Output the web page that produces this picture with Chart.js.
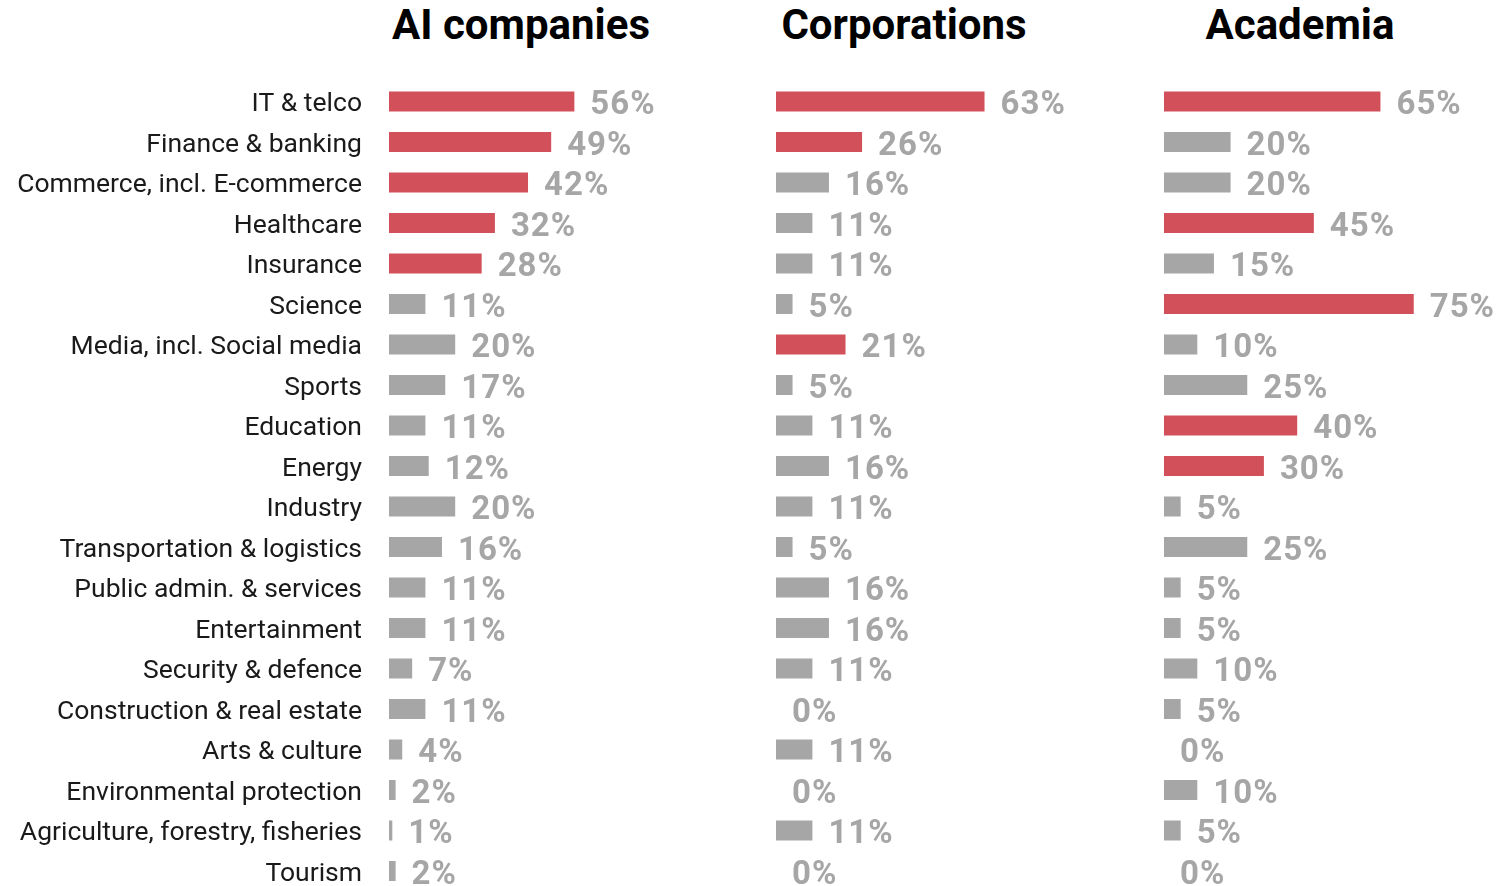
<!DOCTYPE html>
<html>
<head>
<meta charset="utf-8">
<script src="https://cdn.jsdelivr.net/npm/chart.js@4"></script>
<style>
  html, body { margin: 0; padding: 0; background: #fff; }
  body { width: 1497px; height: 886px; position: relative; overflow: hidden; }
  canvas { position: absolute; top: 0; }
  .title {
    position: absolute; top: 4px; width: 400px; text-align: center;
    font: bold 42px Roboto, sans-serif; line-height: 42px; color: #000;
  }
</style>
</head>
<body>
<div class="title" style="left:321px">AI companies</div>
<div class="title" style="left:704px">Corporations</div>
<div class="title" style="left:1100px">Academia</div>
<canvas id="ai" width="720" height="900" style="left:0"></canvas>
<canvas id="corp" width="331" height="900" style="left:776px"></canvas>
<canvas id="acad" width="333" height="900" style="left:1164px"></canvas>
<script>
// --- data ---
const sectors = [
  'IT & telco', 'Finance & banking', 'Commerce, incl. E-commerce', 'Healthcare',
  'Insurance', 'Science', 'Media, incl. Social media', 'Sports', 'Education',
  'Energy', 'Industry', 'Transportation & logistics', 'Public admin. & services',
  'Entertainment', 'Security & defence', 'Construction & real estate',
  'Arts & culture', 'Environmental protection', 'Agriculture, forestry, fisheries',
  'Tourism'
];
const aiCompanies  = [56, 49, 42, 32, 28, 11, 20, 17, 11, 12, 20, 16, 11, 11, 7, 11, 4, 2, 1, 2];
const corporations = [63, 26, 16, 11, 11, 5, 21, 5, 11, 16, 11, 5, 16, 16, 11, 0, 11, 0, 11, 0];
const academia     = [65, 20, 20, 45, 15, 75, 10, 25, 40, 30, 5, 25, 5, 5, 10, 5, 0, 10, 5, 0];

// sectors drawn in red in each panel
const aiHighlight   = ['IT & telco', 'Finance & banking', 'Commerce, incl. E-commerce', 'Healthcare', 'Insurance'];
const corpHighlight = ['IT & telco', 'Finance & banking', 'Media, incl. Social media'];
const acadHighlight = ['IT & telco', 'Healthcare', 'Science', 'Education', 'Energy'];

const RED = '#d2505a';
const GREY = '#a6a6a6';

// value labels at the end of each bar
const valueLabels = {
  id: 'valueLabels',
  afterDatasetsDraw(chart) {
    const ctx = chart.ctx;
    const meta = chart.getDatasetMeta(0);
    const values = chart.data.datasets[0].data;
    ctx.save();
    ctx.font = "bold 33px Roboto, sans-serif";
    ctx.letterSpacing = '1px';
    ctx.fillStyle = GREY;
    ctx.textAlign = 'left';
    ctx.textBaseline = 'alphabetic';
    meta.data.forEach((bar, i) => {
      ctx.fillText(values[i] + '%', bar.x + 16, bar.y + 12.5);
    });
    ctx.restore();
  }
};

function makePanel(canvasId, values, highlight, showLabels) {
  const ctx = document.getElementById(canvasId).getContext('2d');
  return new Chart(ctx, {
    type: 'bar',
    data: {
      labels: sectors,
      datasets: [{
        data: values,
        backgroundColor: sectors.map(s => highlight.includes(s) ? RED : GREY),
        barThickness: 20,
        borderWidth: 0,
        inflateAmount: 0
      }]
    },
    options: {
      indexAxis: 'y',
      responsive: false,
      animation: false,
      devicePixelRatio: 1,
      layout: { padding: { top: 81.25, bottom: 8.75, left: 0, right: 0 } },
      plugins: { legend: { display: false }, tooltip: { enabled: false } },
      scales: {
        x: { display: false, min: 0, max: 100 },
        y: {
          display: showLabels,
          grid: { display: false, drawTicks: false },
          border: { display: false },
          ticks: {
            padding: 27,
            labelOffset: 3,
            color: '#1a1a1a',
            font: { family: 'Roboto, sans-serif', size: 26.5 }
          },
          afterFit(scale) {
            if (!showLabels) return;
            scale.width = 389;
            scale.paddingTop = 0;
            scale.paddingBottom = 0;
          }
        }
      }
    },
    plugins: [valueLabels]
  });
}

makePanel('ai', aiCompanies, aiHighlight, true);
makePanel('corp', corporations, corpHighlight, false);
makePanel('acad', academia, acadHighlight, false);
</script>
</body>
</html>
